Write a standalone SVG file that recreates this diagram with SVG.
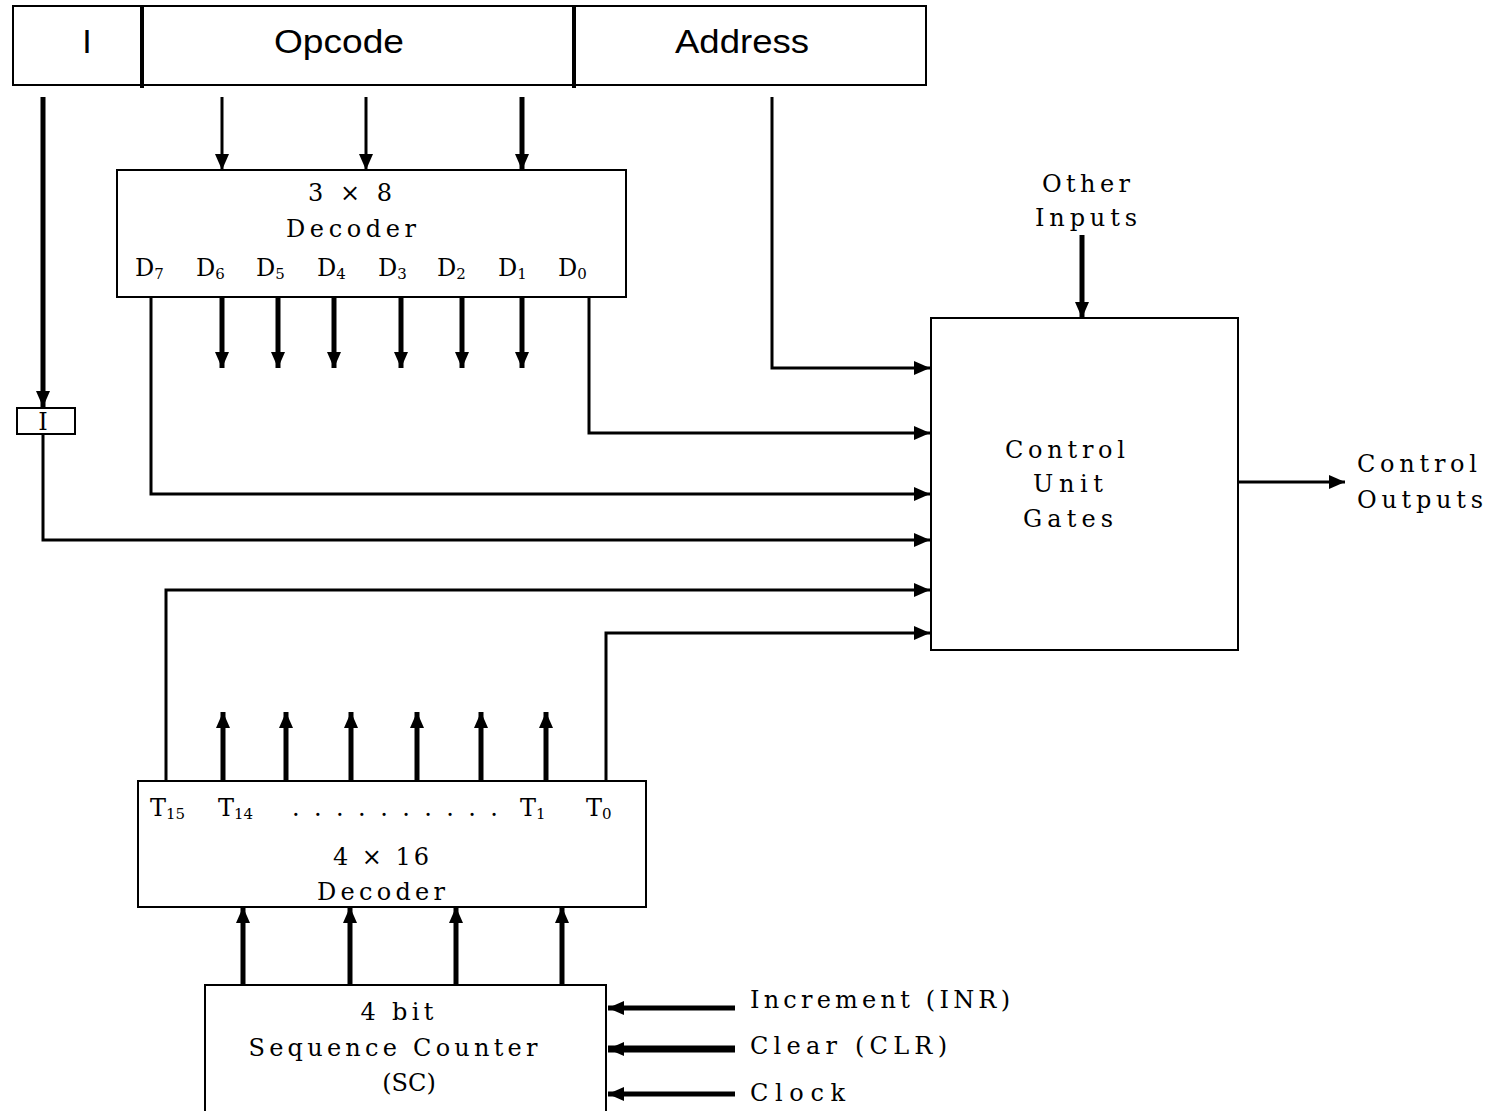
<svg xmlns="http://www.w3.org/2000/svg" width="1493" height="1111" viewBox="0 0 1493 1111">
<style>
.box{fill:#fff;stroke:#000;stroke-width:2}
.w{fill:none;stroke:#000;stroke-width:3}
.t{fill:none;stroke:#000;stroke-width:5}
.s{font-family:"DejaVu Serif","Liberation Serif",serif;font-size:24px;fill:#000}
.a{font-family:"Liberation Sans",Arial,sans-serif;font-size:34px;fill:#000}
.sub{font-size:15px}
</style>
<defs>
<marker id="ah" markerUnits="userSpaceOnUse" markerWidth="16" markerHeight="16" refX="16" refY="8" orient="auto" viewBox="0 0 16 16">
<path d="M0,1 L16,8 L0,15 z" fill="#000"/>
</marker>
</defs>
<rect width="1493" height="1111" fill="#fff"/>

<g id="instruction-register">
<rect x="13" y="6" width="913" height="79" class="box"/>
<line x1="142" y1="6" x2="142" y2="88" stroke="#000" stroke-width="4"/>
<line x1="574" y1="6" x2="574" y2="88" stroke="#000" stroke-width="4"/>
<text class="a" x="87" y="53" text-anchor="middle">I</text>
<text class="a" x="339" y="53" text-anchor="middle" textLength="130" lengthAdjust="spacingAndGlyphs">Opcode</text>
<text class="a" x="742" y="53" text-anchor="middle" textLength="134" lengthAdjust="spacingAndGlyphs">Address</text>
</g>

<g id="decoder-3x8">
<rect x="117" y="170" width="509" height="127" class="box"/>
<text class="s" x="350" y="201" text-anchor="middle" textLength="84" lengthAdjust="spacing">3 × 8</text>
<text class="s" x="351" y="237" text-anchor="middle" textLength="130" lengthAdjust="spacing">Decoder</text>
<text class="s" x="135" y="276">D<tspan class="sub" dy="3">7</tspan></text>
<text class="s" x="196" y="276">D<tspan class="sub" dy="3">6</tspan></text>
<text class="s" x="256" y="276">D<tspan class="sub" dy="3">5</tspan></text>
<text class="s" x="317" y="276">D<tspan class="sub" dy="3">4</tspan></text>
<text class="s" x="378" y="276">D<tspan class="sub" dy="3">3</tspan></text>
<text class="s" x="437" y="276">D<tspan class="sub" dy="3">2</tspan></text>
<text class="s" x="498" y="276">D<tspan class="sub" dy="3">1</tspan></text>
<text class="s" x="558" y="276">D<tspan class="sub" dy="3">0</tspan></text>
</g>

<g id="i-flipflop">
<rect x="17" y="408" width="58" height="26" class="box"/>
<text class="s" x="43" y="430" text-anchor="middle" font-size="20">I</text>
</g>

<g id="control-unit">
<rect x="931" y="318" width="307" height="332" class="box"/>
<text class="s" x="1065" y="458" text-anchor="middle" textLength="120" lengthAdjust="spacing">Control</text>
<text class="s" x="1068" y="492" text-anchor="middle" textLength="70" lengthAdjust="spacing">Unit</text>
<text class="s" x="1068" y="527" text-anchor="middle" textLength="90" lengthAdjust="spacing">Gates</text>
</g>

<g id="other-inputs">
<text class="s" x="1086" y="192" text-anchor="middle" textLength="88" lengthAdjust="spacing">Other</text>
<text class="s" x="1086" y="226" text-anchor="middle" textLength="102" lengthAdjust="spacing">Inputs</text>
</g>

<g id="control-outputs">
<text class="s" x="1357" y="472" textLength="120" lengthAdjust="spacing">Control</text>
<text class="s" x="1357" y="508" textLength="126" lengthAdjust="spacing">Outputs</text>
</g>

<g id="decoder-4x16">
<rect x="138" y="781" width="508" height="126" class="box"/>
<text class="s" x="150" y="816">T<tspan class="sub" dy="3">15</tspan></text>
<text class="s" x="218" y="816">T<tspan class="sub" dy="3">14</tspan></text>
<text class="s" x="292" y="816" textLength="206" lengthAdjust="spacing">. . . . . . . . . .</text>
<text class="s" x="520" y="816">T<tspan class="sub" dy="3">1</tspan></text>
<text class="s" x="586" y="816">T<tspan class="sub" dy="3">0</tspan></text>
<text class="s" x="381" y="865" text-anchor="middle" textLength="96" lengthAdjust="spacing">4 × 16</text>
<text class="s" x="381" y="900" text-anchor="middle" textLength="128" lengthAdjust="spacing">Decoder</text>
</g>

<g id="sequence-counter">
<rect x="205" y="985" width="401" height="130" class="box"/>
<text class="s" x="397" y="1020" text-anchor="middle" textLength="73" lengthAdjust="spacing">4 bit</text>
<text class="s" x="393" y="1056" text-anchor="middle" textLength="289" lengthAdjust="spacing">Sequence Counter</text>
<text class="s" x="409" y="1091" text-anchor="middle">(SC)</text>
</g>

<g id="sc-inputs">
<text class="s" x="750" y="1008" textLength="260" lengthAdjust="spacing">Increment (INR)</text>
<text class="s" x="750" y="1054" textLength="197" lengthAdjust="spacing">Clear (CLR)</text>
<text class="s" x="750" y="1101" textLength="95" lengthAdjust="spacing">Clock</text>
</g>

<g id="connectors">
<line x1="43" y1="97" x2="43" y2="407" class="t" marker-end="url(#ah)"/>
<line x1="222" y1="97" x2="222" y2="170" class="w" marker-end="url(#ah)"/>
<line x1="366" y1="97" x2="366" y2="170" class="w" marker-end="url(#ah)"/>
<line x1="522" y1="97" x2="522" y2="170" class="t" marker-end="url(#ah)"/>
<line x1="222" y1="297" x2="222" y2="368" class="t" marker-end="url(#ah)"/>
<line x1="278" y1="297" x2="278" y2="368" class="t" marker-end="url(#ah)"/>
<line x1="334" y1="297" x2="334" y2="368" class="t" marker-end="url(#ah)"/>
<line x1="401" y1="297" x2="401" y2="368" class="t" marker-end="url(#ah)"/>
<line x1="462" y1="297" x2="462" y2="368" class="t" marker-end="url(#ah)"/>
<line x1="522" y1="297" x2="522" y2="368" class="t" marker-end="url(#ah)"/>
<polyline points="772,97 772,368 930,368" class="w" marker-end="url(#ah)"/>
<polyline points="589,297 589,433 930,433" class="w" marker-end="url(#ah)"/>
<polyline points="151,297 151,494 930,494" class="w" marker-end="url(#ah)"/>
<polyline points="43,434 43,540 930,540" class="w" marker-end="url(#ah)"/>
<polyline points="166,781 166,590 930,590" class="w" marker-end="url(#ah)"/>
<polyline points="606,781 606,633 930,633" class="w" marker-end="url(#ah)"/>
<line x1="1082" y1="235" x2="1082" y2="318" class="t" marker-end="url(#ah)"/>
<line x1="1238" y1="482" x2="1345" y2="482" class="w" marker-end="url(#ah)"/>
<line x1="223" y1="781" x2="223" y2="712" class="t" marker-end="url(#ah)"/>
<line x1="286" y1="781" x2="286" y2="712" class="t" marker-end="url(#ah)"/>
<line x1="351" y1="781" x2="351" y2="712" class="t" marker-end="url(#ah)"/>
<line x1="417" y1="781" x2="417" y2="712" class="t" marker-end="url(#ah)"/>
<line x1="481" y1="781" x2="481" y2="712" class="t" marker-end="url(#ah)"/>
<line x1="546" y1="781" x2="546" y2="712" class="t" marker-end="url(#ah)"/>
<line x1="243" y1="985" x2="243" y2="907" class="t" marker-end="url(#ah)"/>
<line x1="350" y1="985" x2="350" y2="907" class="t" marker-end="url(#ah)"/>
<line x1="456" y1="985" x2="456" y2="907" class="t" marker-end="url(#ah)"/>
<line x1="562" y1="985" x2="562" y2="907" class="t" marker-end="url(#ah)"/>
<line x1="735" y1="1008" x2="608" y2="1008" class="t" marker-end="url(#ah)"/>
<line x1="735" y1="1049" x2="608" y2="1049" stroke="#000" stroke-width="7" marker-end="url(#ah)"/>
<line x1="735" y1="1094" x2="608" y2="1094" class="t" marker-end="url(#ah)"/>
</g>
</svg>
